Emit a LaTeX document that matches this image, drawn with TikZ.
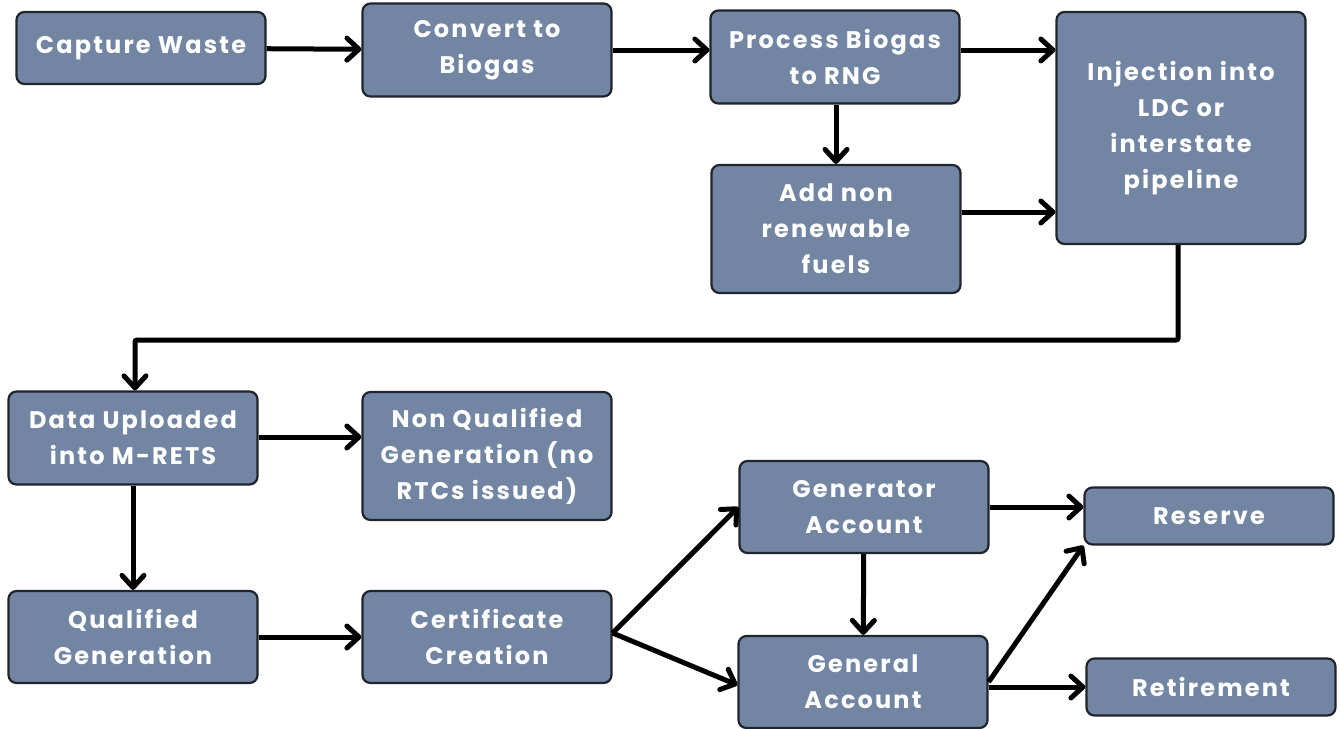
\documentclass[tikz,border=0pt]{standalone}
\usepackage{fontspec}
\setmainfont{Poppins}[LetterSpace=9]
\usepackage{tikz}
\usetikzlibrary{arrows.meta}
\usetikzlibrary{positioning}
\definecolor{slate}{RGB}{114,134,164}
\definecolor{edge}{RGB}{32,36,44}
\tikzset{>={Straight Barb[length=12pt,width=22pt,line width=5pt,round]}}
\tikzset{stage/.style = {rectangle, rounded corners=8pt, draw=edge, line width=2.2pt, fill=slate, text=white, minimum width=249pt, align=center, inner sep=2pt, font=\fontsize{24}{36}\selectfont\bfseries}}
\tikzset{flow/.style = {->, line width=5pt, draw=black}}

\begin{document}
\begin{tikzpicture}[x=1pt, y=-1pt]
\useasboundingbox (0,0) rectangle (1340,728);
% biogas side
\node [stage, minimum height=72pt] (cap) at (141, 48) {Capture Waste};
\node [stage, minimum height=93pt] (conv) at (487, 50) {Convert to\\Biogas};
\node [stage, minimum height=93pt] (proc) at (835, 57) {Process Biogas\\to RNG};
\node [stage, minimum height=128pt] (add) at (836, 229) {Add non\\renewable\\fuels};
\node [stage, minimum height=232pt] (inj) at (1181, 128) {Injection into\\LDC or\\interstate\\pipeline};
% registry side
\node [stage, minimum height=93pt] (data) at (133, 438) {Data Uploaded\\into M-RETS};
\node [stage, minimum height=128pt] (nq) at (487, 456) {Non Qualified\\Generation (no\\RTCs issued)};
\node [stage, minimum height=92pt] (qual) at (133, 637) {Qualified\\Generation};
\node [stage, minimum height=92pt] (cert) at (487, 637) {Certificate\\Creation};
\node [stage, minimum height=92pt] (gen) at (864, 507) {Generator\\Account};
\node [stage, minimum height=92pt] (gnl) at (863, 682) {General\\Account};
\node [stage, minimum height=57pt] (res) at (1209, 516) {Reserve};
\node [stage, minimum height=57pt] (ret) at (1211, 687) {Retirement};
\coordinate (bend) at (1178, 340);

\draw [flow] (cap) -- (conv);
\draw [flow] (conv.east |- 0,50) -- (proc.west |- 0,50);
\draw [flow] (proc.east |- 0,50) -- (inj.west |- 0,50);
\draw [flow] (proc.south -| 836,0) -- (add.north -| 836,0);
\draw [flow] (add.east |- 0,212) -- (inj.west |- 0,212);
\draw [flow, rounded corners=2pt] (inj.south -| bend) -- (bend) -| (data.north -| 135,0);
\draw [flow] (data.east |- 0,437) -- (nq.west |- 0,437);
\draw [flow] (data) -- (qual);
\draw [flow] (qual) -- (cert);
\draw [flow] (cert.east |- 0,633) -- (gen.west |- 0,507);
\draw [flow] (cert.east |- 0,633) -- (gnl.west |- 0,685);
\draw [flow] (gen) -- (gnl);
\draw [flow] (gen.east |- 0,507) -- (res.west |- 0,507);
\draw [flow] (gnl.east |- 0,682) -- (res.south west);
\draw [flow] (gnl.east |- 0,687) -- (ret);
\end{tikzpicture}
\end{document}
